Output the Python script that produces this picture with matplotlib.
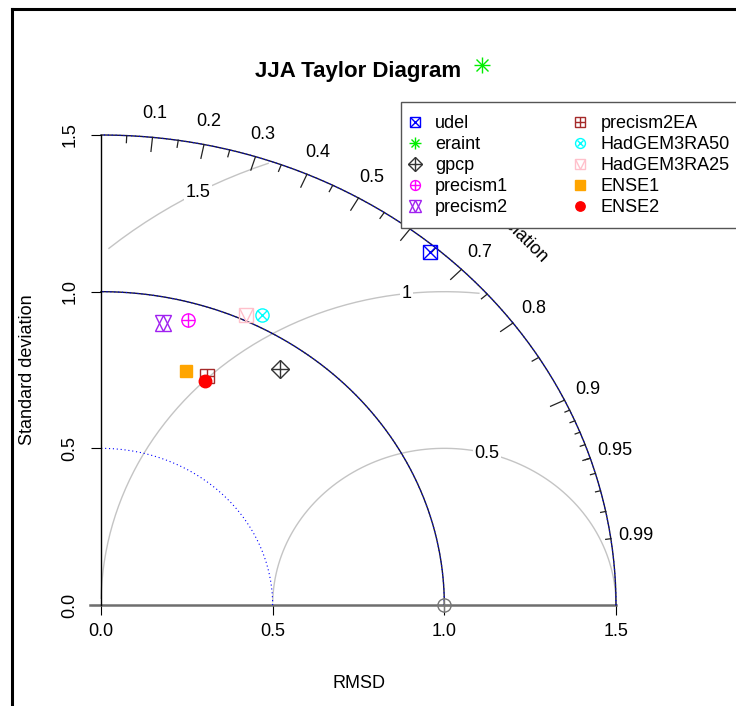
import numpy as np
import matplotlib.pyplot as plt
from matplotlib.lines import Line2D
from matplotlib.path import Path
from matplotlib.patches import Rectangle
from matplotlib.legend_handler import HandlerTuple

plt.rcParams['font.family'] = ['Liberation Sans', 'DejaVu Sans']

# Werte (Standardabweichung, Korrelation)
models = ["udel", "eraint", "gpcp", "precism1", "precism2",
          "precism2EA", "HadGEM3RA50", "HadGEM3RA25", "ENSE1", "ENSE2"]
sd_vals = [1.479, 2.050, 0.916, 0.944, 0.918, 0.794, 1.038, 1.018, 0.787, 0.777]
cor_vals = [0.648, 0.541, 0.569, 0.268, 0.197, 0.389, 0.452, 0.415, 0.315, 0.390]
colors = ["blue", "#00ee00", "#333333", "magenta", "#a020f0",
          "brown", "cyan", "pink", "orange", "red"]

ref_sd = 1.0
max_sd = 1.5
rmsd_levels = [0.5, 1.0, 1.5]
sd_arcs = [0.5, 1.0, 1.5]
cor_big = [0.1, 0.2, 0.3, 0.4, 0.5, 0.6, 0.7, 0.8, 0.9]
cor_med = [0.05, 0.15, 0.25, 0.35, 0.45, 0.55, 0.65, 0.75, 0.85, 0.95]
cor_small = [0.91, 0.92, 0.93, 0.94, 0.95, 0.96, 0.97, 0.98, 0.99]
cor_labels = cor_big + [0.95, 0.99]
axis_ticks = [0.0, 0.5, 1.0, 1.5]

W, H = 736, 706
vee = Path([(-0.5, 0.5), (0, -0.5), (0.5, 0.5)],
           [Path.MOVETO, Path.LINETO, Path.LINETO])

# R pch Symbole nachbauen (Marker, Groesse, gefuellt)
pch = {
    "udel": [('s', 9.5, False), ('x', 9.5, False)],
    "eraint": [('+', 12, False), ('x', 8.5, False)],
    "gpcp": [('D', 9.5, False), ('+', 13.4, False)],
    "precism1": [('o', 9.5, False), ('+', 9.5, False)],
    "precism2": [('^', 12, False), ('v', 12, False)],
    "precism2EA": [('s', 9.5, False), ('+', 9.5, False)],
    "HadGEM3RA50": [('o', 9.5, False), ('x', 6.7, False)],
    "HadGEM3RA25": [('s', 9.5, False), (vee, 9.5, False)],
    "ENSE1": [('s', 9, True)],
    "ENSE2": [('o', 9, True)],
}


def draw_pch(ax, x, y, parts, color):
    for m, ms, filled in parts:
        ax.plot([x], [y], ls='none', marker=m, ms=ms, mec=color, mew=1.0,
                mfc=color if filled else 'none', clip_on=False, zorder=4)


def legend_handle(parts, color):
    return tuple(Line2D([], [], ls='none', marker=m, ms=ms, mec=color, mew=1.0,
                        mfc=color if filled else 'none')
                 for m, ms, filled in parts)


fig = plt.figure(figsize=(W / 100, H / 100), dpi=100)
ax = fig.add_axes([101 / W, (H - 605) / H, 515 / W, 470 / H])
ax.set_xlim(0, max_sd)
ax.set_ylim(0, max_sd)
for s in ['top', 'right', 'bottom']:
    ax.spines[s].set_visible(False)
ax.spines['left'].set_color('black')
ax.spines['left'].set_linewidth(1.0)

ax.set_xticks(axis_ticks)
ax.set_xticklabels([f"{t:.1f}" for t in axis_ticks])
ax.set_yticks(axis_ticks)
ax.set_yticklabels([f"{t:.1f}" for t in axis_ticks], rotation=90, va='center')
ax.tick_params(axis='both', direction='out', length=7.2, width=0.8,
               colors='black', labelsize=13)
ax.tick_params(axis='x', pad=6)
ax.tick_params(axis='y', pad=9)

# Grundlinie
ax.plot([-0.032, max_sd], [0, 0], color='#6e6e6e', lw=1.8, clip_on=False, zorder=2)

# RMSD Kreise um den Referenzpunkt
theta = np.arange(0, np.pi, 0.03)
label_idx = np.linspace(45, 70, len(rmsd_levels)).astype(int) - 1
for g, li in zip(rmsd_levels, label_idx):
    xc = np.cos(theta) * g + ref_sd
    yc = np.sin(theta) * g
    keep = (xc >= 0) & (xc ** 2 + yc ** 2 <= max_sd ** 2)
    ax.plot(xc[keep], yc[keep], color='#c4c4c4', lw=1.0, clip_on=False, zorder=1)
    ax.text(xc[li], yc[li], f"{g:g}", fontsize=13, ha='center', va='center',
            bbox=dict(facecolor='white', edgecolor='none', pad=1), zorder=2)

# Standardabweichungs-Boegen
phi = np.linspace(0, np.pi / 2, 200)
for r in [ref_sd, max_sd]:
    ax.plot(np.cos(phi) * r, np.sin(phi) * r, color='#1a1a2e', lw=1.0,
            clip_on=False, zorder=2)
for r in sd_arcs:
    ax.plot(np.cos(phi) * r, np.sin(phi) * r, color='blue', lw=0.8,
            ls=(0, (1, 2.5)), clip_on=False, zorder=2)

# Korrelations-Ticks
for vals, frac in [(cor_big, 0.97), (cor_med, 0.985), (cor_small, 0.99)]:
    for c in vals:
        a = np.arccos(c)
        ax.plot([np.cos(a) * max_sd, np.cos(a) * max_sd * frac],
                [np.sin(a) * max_sd, np.sin(a) * max_sd * frac],
                color='#222222', lw=0.9, clip_on=False, zorder=2)
for c in cor_labels:
    a = np.arccos(c)
    ax.text(np.cos(a) * 1.05 * max_sd, np.sin(a) * 1.05 * max_sd, f"{c:g}",
            fontsize=13, ha='center', va='center')
ax.text(0.8 * max_sd, 0.8 * max_sd, "Correlation", fontsize=13, rotation=-45,
        rotation_mode='anchor', ha='center', va='center')

# Referenzpunkt
draw_pch(ax, ref_sd, 0, [('o', 9.5, False), ('+', 9.5, False)], '#777777')

handles = []
for name, sd, cor, col in zip(models, sd_vals, cor_vals, colors):
    x = sd * cor
    y = sd * np.sqrt(1 - cor ** 2)
    draw_pch(ax, x, y, pch[name], col)
    handles.append(legend_handle(pch[name], col))

# Legendenkasten (ragt rechts aus dem Bild)
box = Rectangle((401 / W, 1 - 228 / H), 360 / W, 126 / H, transform=fig.transFigure,
                facecolor='white', edgecolor='#555555', lw=1.0, zorder=4.9)
fig.add_artist(box)
leg = fig.legend(handles, models, loc='upper left',
                 bbox_to_anchor=(406 / W, 1 - 115.5 / H), ncol=2,
                 frameon=False, borderaxespad=0, borderpad=0, fontsize=13,
                 handlelength=1.0, handletextpad=0.61, columnspacing=3.5,
                 labelspacing=0.22, markerscale=0.75,
                 handler_map={tuple: HandlerTuple(ndivide=1)})
leg.set_zorder(5)

fig.text(358.5 / W, 1 - 72 / H, "JJA Taylor Diagram", ha='center', va='center',
         fontsize=16, fontweight='bold')
fig.text(358.5 / W, 1 - 683 / H, "RMSD", ha='center', va='center', fontsize=13)
fig.text(27 / W, 1 - 370 / H, "Standard deviation", ha='center', va='center',
         fontsize=13, rotation=90)

# Rahmen oben links
fig.add_artist(Line2D([11.5 / W, 11.5 / W], [0, 1 - 8.5 / H],
                      transform=fig.transFigure, color='black', lw=2.2))
fig.add_artist(Line2D([11.5 / W, 1], [1 - 8.5 / H, 1 - 8.5 / H],
                      transform=fig.transFigure, color='black', lw=2.2))

fig.savefig("out.png", dpi=100)
